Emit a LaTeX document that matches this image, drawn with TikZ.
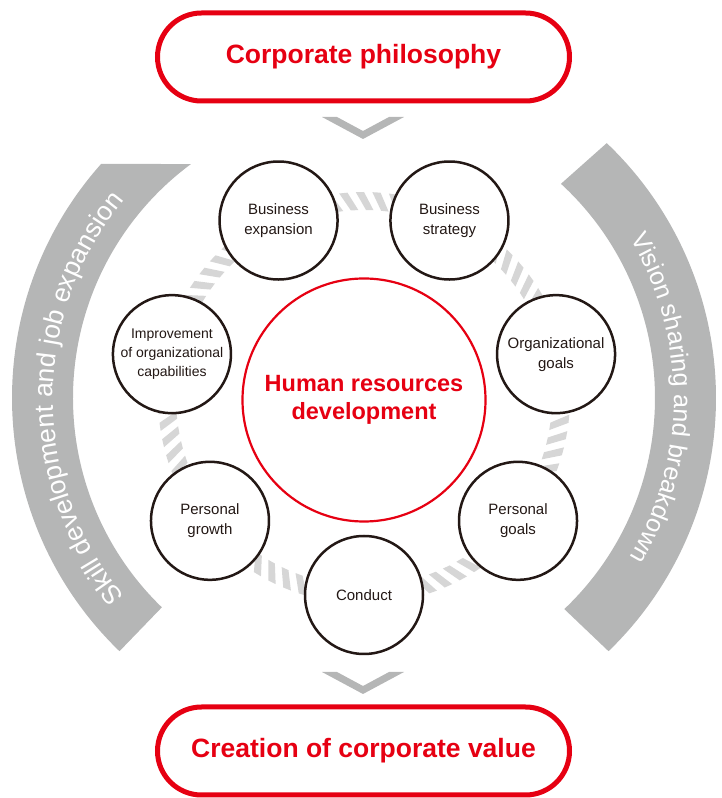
\documentclass[tikz,border=0pt]{standalone}
\usepackage{fontspec}
\setmainfont{Liberation Sans}
\usetikzlibrary{decorations.text,shapes.misc}
\definecolor{cred}{HTML}{E60012}
\definecolor{cdark}{HTML}{231815}
\definecolor{cband}{HTML}{B5B6B6}
\definecolor{cstripe}{HTML}{D6D6D6}
\newcommand\bandfont{\fontsize{25}{30}\selectfont}
\newcommand\bandfontl{\fontsize{26.5}{30}\selectfont}
\begin{document}
\begin{tikzpicture}[x=1pt,y=1pt,
  pill/.style={rounded rectangle, draw=cred, line width=5pt, minimum width=412pt, minimum height=88pt, text=cred, font=\bfseries\fontsize{26.5}{30}\selectfont, inner sep=0pt},
  topic/.style={circle, draw=cdark, line width=2.5pt, fill=white, minimum size=118pt, inner sep=0pt, text=cdark, align=center, font=\fontsize{15}{20}\selectfont},
  core/.style={circle, draw=cred, line width=2.2pt, fill=white, minimum size=243pt, inner sep=0pt, text=cred, align=center, font=\bfseries\fontsize{23.5}{28}\selectfont},
  band/.style={fill=cband},
  chev/.style={fill=cband},
  stripe/.style={fill=cstripe},
  bandtext/.style={decorate, decoration={text along path, text align=center, text color=white}}]
\useasboundingbox (0,0) rectangle (721,798);

% side bands
\begin{scope}[shift={(364,400)}]
  \fill[band] (138.3:352pt) arc[start angle=138.3, end angle=226, radius=352pt] -- (226:291pt) arc[start angle=226, end angle=126.5, radius=291pt] -- cycle;
  \fill[band] (46.4:352pt) arc[start angle=46.4, end angle=-46, radius=352pt] -- (-46.5:291pt) arc[start angle=-46.5, end angle=47.4, radius=291pt] -- cycle;
  \path[bandtext, decoration={text={|\bandfontl|Skill development and job expansion}}] (240:311pt) arc[start angle=240, end angle=120, radius=311pt];
  \path[bandtext, decoration={text={|\bandfont|Vision sharing and breakdown}}] (60:310pt) arc[start angle=60, end angle=-60, radius=310pt];
  % hatched ring
  \foreach \i in {0,...,77}{
    \pgfmathsetmacro\stripeang{4.6154*\i+2}
    \fill[stripe] (\stripeang+0.3:206pt) -- (\stripeang+2.6:206pt) -- (\stripeang-0.3:188pt) -- (\stripeang-2.6:188pt) -- cycle;
  }
\end{scope}

% pills
\node[pill] (philo) at (363.5,741) {Corporate philosophy};
\node[pill] (value) at (363.5,47) {Creation of corporate value};

% chevrons
\fill[chev] (322,681) -- (337,681) -- (363,667) -- (389,681) -- (404,681) -- (363,659) -- cycle;
\fill[chev] (322,126) -- (337,126) -- (363,112) -- (389,126) -- (404,126) -- (363,104) -- cycle;

% core
\node[core] (hrd) at (364,398) {Human resources\\development};

% topics
\begin{scope}[shift={(364,400)}]
  \node[topic] (conduct) at (-90:197pt) {Conduct};
  \node[topic] (pgoals) at (-38.57:197pt) {Personal\\goals};
  \node[topic] (ogoals) at (12.86:197pt) {Organizational\\goals};
  \node[topic] (bstrat) at (64.29:197pt) {Business\\strategy};
  \node[topic] (bexp) at (115.71:197pt) {Business\\expansion};
  \node[topic, font=\fontsize{14}{19}\selectfont] (improve) at (167.14:197pt) {Improvement\\of organizational\\capabilities};
  \node[topic] (pgrowth) at (218.57:197pt) {Personal\\growth};
\end{scope}
\end{tikzpicture}
\end{document}
